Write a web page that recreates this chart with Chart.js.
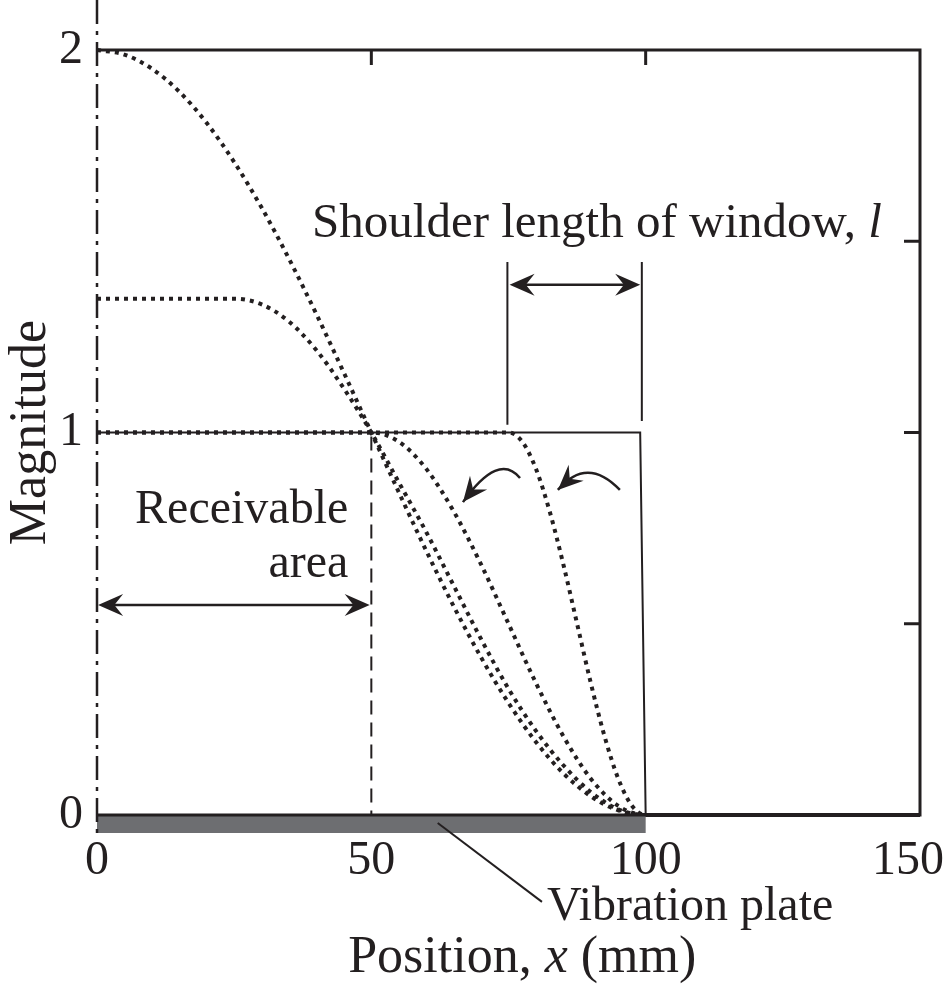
<!DOCTYPE html>
<html>
<head>
<meta charset="utf-8">
<script src="https://cdn.jsdelivr.net/npm/chart.js@4.4.0/dist/chart.umd.min.js"></script>
<style>
  body { margin: 0; background: #fff; }
  #wrap { width: 951px; height: 985px; }
</style>
</head>
<body>
<div id="wrap"><canvas id="window_chart" width="951" height="985"></canvas></div>
<script>
// Magnitude of the window along the plate
// rectangular window (solid line)
const rectX = [0, 99, 100, 150];
const rectY = [1, 1, 0, 0];

// tapered windows, shoulder length l = 25, 50, 75, 100 mm (dotted lines)
const l25X = [0, 75, 77.5, 80, 82.5, 85, 87.5, 90, 92.5, 95, 97.5, 100, 150];
const l25Y = [1, 1, 0.976, 0.905, 0.794, 0.655, 0.5, 0.345, 0.206, 0.095, 0.024, 0, 0];

const l50X = [0, 50, 55, 60, 65, 70, 75, 80, 85, 90, 95, 100, 150];
const l50Y = [1, 1, 0.976, 0.905, 0.794, 0.655, 0.5, 0.345, 0.206, 0.095, 0.024, 0, 0];

const l75X = [0, 25, 30, 35, 40, 45, 50, 55, 60, 65, 70, 75, 80, 85, 90, 95, 100, 150];
const l75Y = [1.35, 1.35, 1.335, 1.29, 1.215, 1.115, 1, 0.87, 0.74, 0.6, 0.46, 0.33, 0.22, 0.13, 0.06, 0.015, 0, 0];

const l100X = [0, 5, 10, 15, 20, 25, 30, 35, 40, 45, 50, 55, 60, 65, 70, 75, 80, 85, 90, 95, 100, 150];
const l100Y = [2, 1.988, 1.951, 1.891, 1.809, 1.707, 1.588, 1.454, 1.309, 1.156, 1, 0.844, 0.691, 0.546, 0.412, 0.293, 0.191, 0.109, 0.049, 0.012, 0, 0];

// tick labels
const xTicks = [0, 50, 100, 150];
const yTicks = [0, 1, 2];

const INK = '#231f20';
const SERIF = '"Liberation Serif", "Times New Roman", serif';

function toPoints(xs, ys) {
   return xs.map((v, i) => ({ x: v, y: ys[i] }));
}

function dotted(xs, ys) {
   return {
      data: toPoints(xs, ys),
      borderColor: INK,
      borderWidth: 4,
      borderDash: [4, 5],
      pointRadius: 0,
      cubicInterpolationMode: 'monotone',
      clip: 6
   };
}

// filled barbed arrow head, tip at (x, y), pointing along ang
function arrowHead(ctx, x, y, ang, len, half) {
   ctx.save();
   ctx.translate(x, y);
   ctx.rotate(ang);
   ctx.beginPath();
   ctx.moveTo(0, 0);
   ctx.lineTo(-len, -half);
   ctx.lineTo(-len * 0.65, 0);
   ctx.lineTo(-len, half);
   ctx.closePath();
   ctx.fill();
   ctx.restore();
}

function doubleArrow(ctx, x1, x2, yy) {
   ctx.beginPath();
   ctx.moveTo(x1 + 8, yy);
   ctx.lineTo(x2 - 8, yy);
   ctx.stroke();
   arrowHead(ctx, x1, yy, Math.PI, 25, 11);
   arrowHead(ctx, x2, yy, 0, 25, 11);
}

function curvedArrow(ctx, p0, c, p2) {
   ctx.beginPath();
   ctx.moveTo(p0[0], p0[1]);
   ctx.quadraticCurveTo(c[0], c[1], p2[0], p2[1]);
   ctx.stroke();
   // direction from a point near the end of the curve
   const t = 0.8;
   const bx = (1 - t) * (1 - t) * p0[0] + 2 * t * (1 - t) * c[0] + t * t * p2[0];
   const by = (1 - t) * (1 - t) * p0[1] + 2 * t * (1 - t) * c[1] + t * t * p2[1];
   arrowHead(ctx, p2[0], p2[1], Math.atan2(p2[1] - by, p2[0] - bx), 25, 11);
}

// Frame, guide lines, arrows and labels
const decorations = {
   id: 'decorations',
   afterDatasetsDraw(chart) {
      const { ctx, chartArea: a, scales } = chart;
      const X = v => scales.x.getPixelForValue(v);
      const Y = v => scales.y.getPixelForValue(v);

      ctx.save();

      // vibration plate
      ctx.fillStyle = '#6d6e71';
      ctx.fillRect(X(0), a.bottom, X(100) - X(0), 18);

      ctx.strokeStyle = INK;
      ctx.fillStyle = INK;

      // centre line at x = 0 (dash-dot)
      ctx.lineWidth = 2.5;
      ctx.setLineDash([24, 7, 4, 7]);
      ctx.beginPath();
      ctx.moveTo(X(0), 0);
      ctx.lineTo(X(0), a.bottom + 20);
      ctx.stroke();

      // receivable area limit at x = 50 (dashed)
      ctx.lineWidth = 2;
      ctx.setLineDash([14, 8]);
      ctx.beginPath();
      ctx.moveTo(X(50), Y(1) + 4);
      ctx.lineTo(X(50), a.bottom);
      ctx.stroke();
      ctx.setLineDash([]);

      // frame
      ctx.lineWidth = 3;
      ctx.lineJoin = 'miter';
      ctx.beginPath();
      ctx.moveTo(a.left, a.top);
      ctx.lineTo(a.right, a.top);
      ctx.lineTo(a.right, a.bottom);
      ctx.lineTo(a.left, a.bottom);
      ctx.stroke();

      // inward ticks on top and right
      [50, 100].forEach(v => {
         ctx.beginPath();
         ctx.moveTo(X(v), a.top);
         ctx.lineTo(X(v), a.top + 15);
         ctx.stroke();
      });
      [0.5, 1, 1.5].forEach(v => {
         ctx.beginPath();
         ctx.moveTo(a.right, Y(v));
         ctx.lineTo(a.right - 16, Y(v));
         ctx.stroke();
      });

      // shoulder length markers
      ctx.lineWidth = 2;
      ctx.beginPath();
      ctx.moveTo(X(74.8), Y(1.446));
      ctx.lineTo(X(74.8), Y(1.02));
      ctx.moveTo(X(99.3), Y(1.446));
      ctx.lineTo(X(99.3), Y(1.03));
      ctx.stroke();
      ctx.lineWidth = 2.5;
      doubleArrow(ctx, X(75.2), X(99), Y(1.386));

      // receivable area arrow
      doubleArrow(ctx, X(0.2), X(49.7), Y(0.549));

      // curved arrows
      curvedArrow(ctx, [X(77.1), Y(0.881)], [X(73.2), Y(0.95)], [X(66.7), Y(0.818)]);
      curvedArrow(ctx, [X(95.3), Y(0.85)], [X(89.3), Y(0.94)], [X(84.0), Y(0.85)]);

      // vibration plate leader
      ctx.lineWidth = 2;
      ctx.beginPath();
      ctx.moveTo(X(62.1), Y(-0.021));
      ctx.lineTo(X(81.1), Y(-0.227));
      ctx.stroke();

      // texts
      ctx.textBaseline = 'alphabetic';
      ctx.font = '49px ' + SERIF;
      ctx.textAlign = 'left';
      const shoulder = 'Shoulder length of window, ';
      ctx.fillText(shoulder, X(39.2), Y(1.511));
      const sw = ctx.measureText(shoulder).width;
      ctx.font = 'italic 49px ' + SERIF;
      ctx.fillText('l', X(39.2) + sw, Y(1.511));

      ctx.font = '48px ' + SERIF;
      ctx.textAlign = 'right';
      ctx.fillText('Receivable', X(45.8), Y(0.763));
      ctx.fillText('area', X(45.8), Y(0.622));

      ctx.textAlign = 'left';
      ctx.font = '48px ' + SERIF;
      ctx.fillText('Vibration plate', X(82.0), Y(-0.275));

      // x axis title with italic x
      const parts = [['Position, ', ''], ['x', 'italic '], [' (mm)', '']];
      let total = 0;
      parts.forEach(p => {
         ctx.font = p[1] + '52px ' + SERIF;
         total += ctx.measureText(p[0]).width;
      });
      let cx = X(77.5) - total / 2;
      parts.forEach(p => {
         ctx.font = p[1] + '52px ' + SERIF;
         ctx.fillText(p[0], cx, Y(-0.41));
         cx += ctx.measureText(p[0]).width;
      });

      ctx.restore();
   }
};

const chart = new Chart(document.querySelector('#window_chart').getContext('2d'), {
   type: 'scatter',
   data: {
      datasets: [
         {
            data: toPoints(rectX, rectY),
            borderColor: INK,
            borderWidth: 2,
            pointRadius: 0,
            tension: 0,
            clip: 6
         },
         dotted(l25X, l25Y),
         dotted(l50X, l50Y),
         dotted(l75X, l75Y),
         dotted(l100X, l100Y)
      ].map(d => Object.assign({ showLine: true }, d))
   },
   options: {
      responsive: false,
      animation: false,
      events: [],
      layout: { padding: { left: 0, top: 50, right: 31, bottom: 0 } },
      plugins: { legend: { display: false }, tooltip: { enabled: false } },
      scales: {
         x: {
            type: 'linear',
            min: 0,
            max: 150,
            grid: { display: false },
            border: { display: false },
            afterBuildTicks: s => { s.ticks = xTicks.map(v => ({ value: v })); },
            afterFit: s => { s.height = 170; s.paddingLeft = 0; s.paddingRight = 0; },
            ticks: {
               font: { family: SERIF, size: 48 }, color: INK, padding: 10, maxRotation: 0, autoSkip: false,
               // last label sits a little inside the page edge
               callback: v => v === 150 ? '150\u2002' : String(v)
            }
         },
         y: {
            type: 'linear',
            min: 0,
            max: 2,
            grid: { display: false },
            border: { display: false },
            afterBuildTicks: s => { s.ticks = yTicks.map(v => ({ value: v })); },
            afterFit: s => { s.width = 97; s.paddingTop = 0; s.paddingBottom = 0; },
            ticks: { font: { family: SERIF, size: 48 }, color: INK, padding: 6 },
            title: { display: true, text: 'Magnitude', font: { family: SERIF, size: 52 }, color: INK, padding: 0 }
         }
      }
   },
   plugins: [decorations]
});
</script>
</body>
</html>
